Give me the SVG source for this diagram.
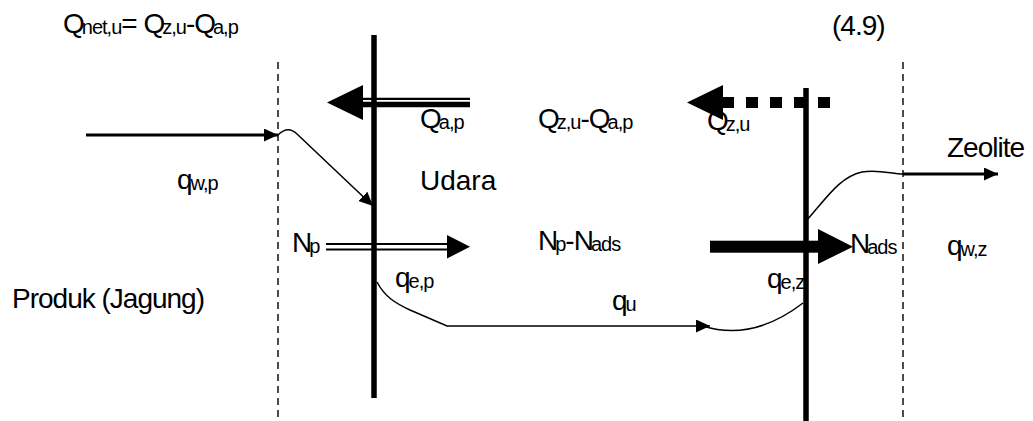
<svg xmlns="http://www.w3.org/2000/svg" width="1033" height="421" viewBox="0 0 1033 421">
<style>
.t{font-family:"Liberation Sans",Arial,sans-serif;font-size:28px;letter-spacing:-1px;fill:#000}
.s{font-size:20px}
.dash{stroke:#000;stroke-width:1.4;stroke-dasharray:7,5;fill:none}
.wall{stroke:#000;stroke-width:5.5;fill:none}
.thin{stroke:#000;stroke-width:1.5;fill:none}
.mid{stroke:#000;stroke-width:3.2;fill:none}
</style>
<defs>
<marker id="ah" markerUnits="userSpaceOnUse" markerWidth="16" markerHeight="14" refX="14" refY="6.5" orient="auto">
<path d="M0,0 L14,6.5 L0,13 z" fill="#000"/>
</marker>
</defs>
<rect width="1033" height="421" fill="#fff"/>
<g id="boundaries">
<line class="dash" x1="278" y1="62" x2="278" y2="421"/>
<line class="dash" x1="903" y1="62" x2="903" y2="421"/>
<line class="wall" x1="374" y1="35" x2="374" y2="398"/>
<line class="wall" x1="806" y1="88" x2="806" y2="421"/>
</g>
<g id="connectors">
<line x1="360" y1="98.8" x2="470" y2="98.8" stroke="#000" stroke-width="2.2"/>
<line x1="360" y1="104.5" x2="470" y2="104.5" stroke="#000" stroke-width="5.5"/>
<polygon points="327,102.5 363,85 363,120" fill="#000"/>
<line x1="830" y1="102.5" x2="722" y2="102.5" stroke="#000" stroke-width="11" stroke-dasharray="12,12"/>
<polygon points="687,102.5 723,85 723,120" fill="#000"/>
<line class="mid" x1="86" y1="135" x2="278" y2="135" marker-end="url(#ah)"/>
<path class="thin" d="M278,135 C283,130 290,127 297,134 L373,206" marker-end="url(#ah)"/>
<path class="thin" d="M807,220 C828,196 840,177 862,172 C878,169 892,174 903,174"/>
<line class="mid" x1="903" y1="174" x2="998" y2="174" marker-end="url(#ah)"/>
<line x1="326" y1="244" x2="450" y2="244" stroke="#000" stroke-width="2"/>
<line x1="326" y1="249.5" x2="450" y2="249.5" stroke="#000" stroke-width="2"/>
<polygon points="470,246.7 447,235 447,258.5" fill="#000"/>
<rect x="710" y="240.7" width="110" height="12" fill="#000"/>
<polygon points="853,246.7 818,229 818,264" fill="#000"/>
<path class="thin" d="M377,282 C385,297 395,303 410,310 L447,326 L710,326" marker-end="url(#ah)"/>
<path class="thin" d="M703,326 C725,333 760,336 803,303"/>
</g>
<g id="labels">
<text class="t" x="63" y="33">Q<tspan class="s" dx="-2" dy="1">net,u</tspan><tspan dy="-1">= Q</tspan><tspan class="s" dx="-2" dy="1">z,u</tspan><tspan dy="-1">-Q</tspan><tspan class="s" dx="-2" dy="1">a,p</tspan></text>
<text class="t" x="832" y="35">(4.9)</text>
<text class="t" x="420" y="128">Q<tspan class="s" dx="-2" dy="1">a,p</tspan></text>
<text class="t" x="538" y="128">Q<tspan class="s" dx="-2" dy="1">z,u</tspan><tspan dy="-1">-Q</tspan><tspan class="s" dx="-2" dy="1">a,p</tspan></text>
<text class="t" x="707" y="130">Q<tspan class="s" dx="-2" dy="1">z,u</tspan></text>
<text class="t" x="947" y="157">Zeolite</text>
<text class="t" x="177" y="189">q<tspan class="s" dx="-1" dy="1">w,p</tspan></text>
<text class="t" x="420" y="190" style="letter-spacing:0">Udara</text>
<text class="t" x="292" y="252">N<tspan class="s" dx="-2" dy="1">p</tspan></text>
<text class="t" x="538" y="250">N<tspan class="s" dx="-2" dy="1">p</tspan><tspan dy="-1">-N</tspan><tspan class="s" dx="-2" dy="1">ads</tspan></text>
<text class="t" x="850" y="253">N<tspan class="s" dx="-2" dy="1">ads</tspan></text>
<text class="t" x="947" y="255">q<tspan class="s" dx="-1" dy="1">w,z</tspan></text>
<text class="t" x="395" y="287">q<tspan class="s" dx="-1" dy="1">e,p</tspan></text>
<text class="t" x="767" y="288">q<tspan class="s" dx="-1" dy="1">e,z</tspan></text>
<text class="t" x="612" y="310">q<tspan class="s" dx="-1" dy="1">u</tspan></text>
<text class="t" x="12" y="308">Produk (Jagung)</text>
</g>
</svg>
